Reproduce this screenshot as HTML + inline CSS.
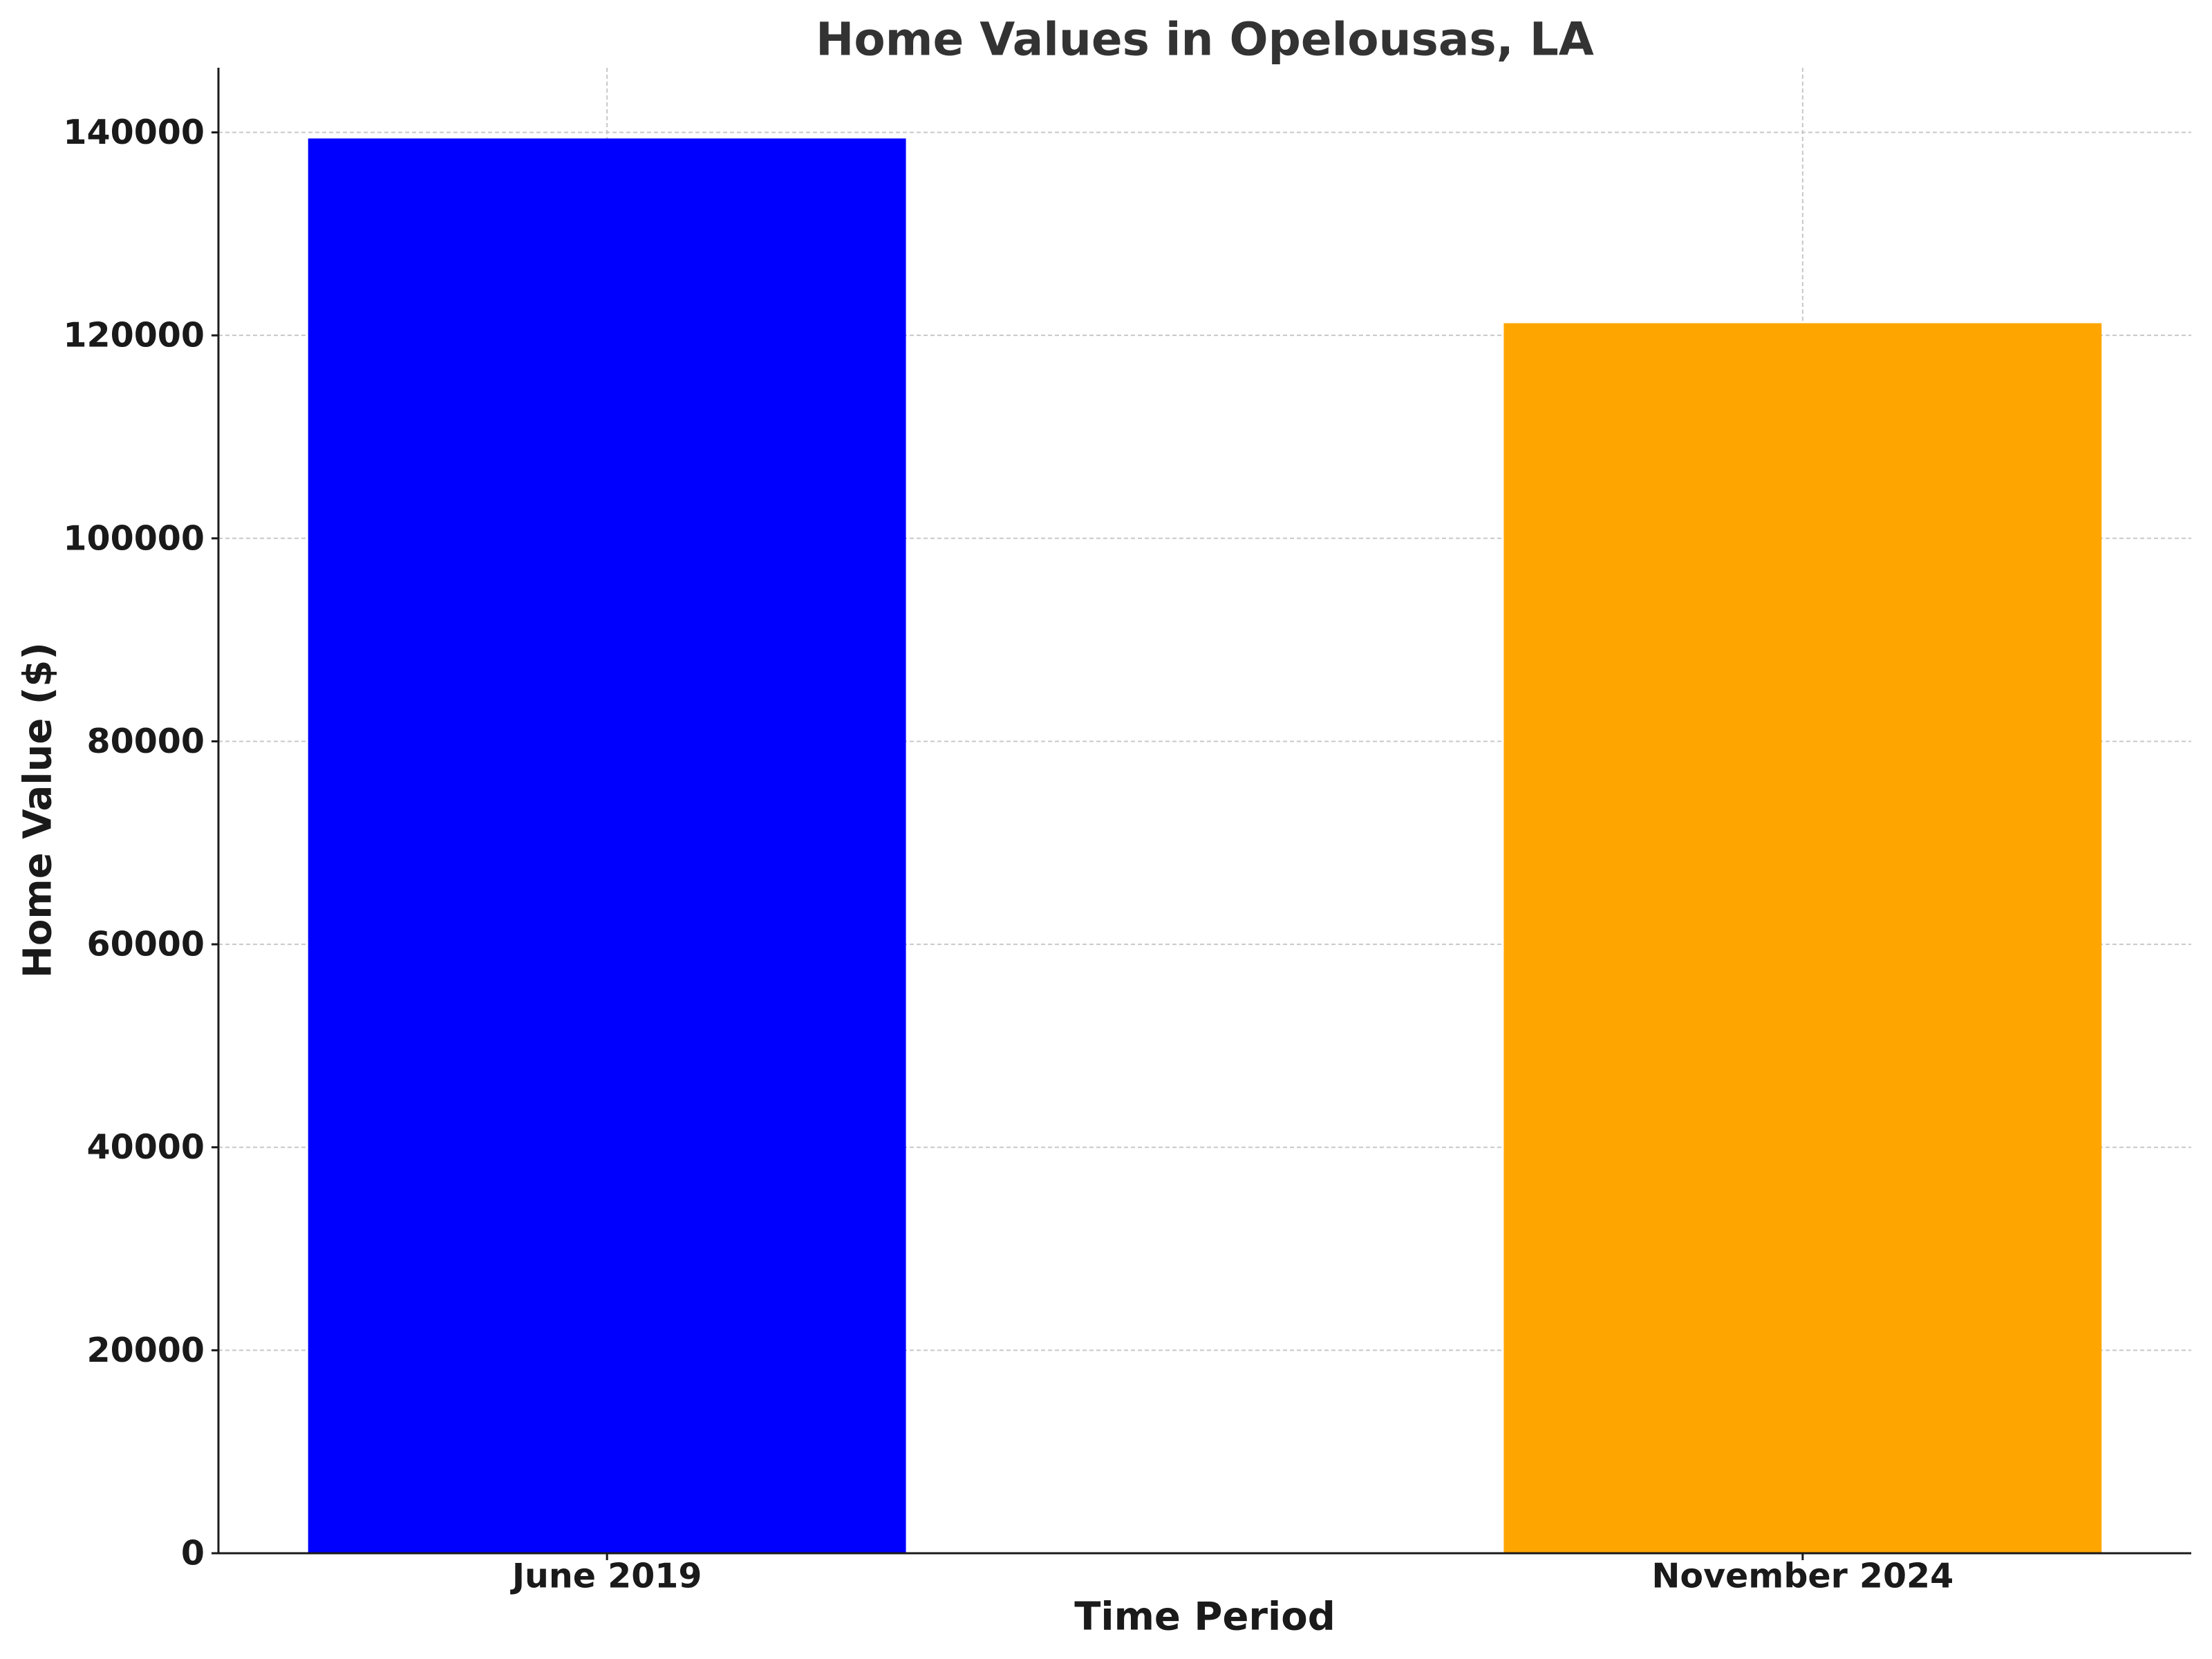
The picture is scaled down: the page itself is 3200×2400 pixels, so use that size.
<!DOCTYPE html>
<html><head><meta charset="utf-8"><style>
html,body{margin:0;padding:0;background:#fff;}
svg{display:block;font-family:"DejaVu Sans","Liberation Sans",sans-serif;font-weight:bold;}
</style></head><body>
<svg id="chart" width="3200" height="2400" viewBox="0 0 3200 2400">
<text x="1743" y="57" text-anchor="middle" dominant-baseline="central" font-size="66" fill="#333">Home Values in Opelousas, LA</text>
<g id="grid"></g>
<g id="bars"></g>
<g id="axes"></g>
<text x="1743" y="2339" text-anchor="middle" dominant-baseline="central" font-size="56" fill="#1a1a1a">Time Period</text>
<text transform="translate(55,1172) rotate(-90)" text-anchor="middle" dominant-baseline="central" font-size="56" fill="#1a1a1a">Home Value ($)</text>
</svg>
<script>
const categories = ["June 2019", "November 2024"];
const values = [139400, 121200];
const colors = ["#0000ff", "#ffa500"];
const yTicks = [0, 20000, 40000, 60000, 80000, 100000, 120000, 140000];
const NS = "http://www.w3.org/2000/svg";
const L = 316, R = 3170, T = 98, B = 2247;
const yMax = Math.max(...values) * 1.05;
const xMin = -0.325, xMax = categories.length - 1 + 0.325;
const y = v => B - (v / yMax) * (B - T);
const x = i => L + (i - xMin) / (xMax - xMin) * (R - L);
const bw = 0.5 * (R - L) / (xMax - xMin);
function mk(tag, attrs, parent) { const e = document.createElementNS(NS, tag); for (const k in attrs) e.setAttribute(k, attrs[k]); parent.appendChild(e); return e; }
const grid = document.getElementById("grid"), bars = document.getElementById("bars"), axes = document.getElementById("axes");
yTicks.forEach(t => {
  const g = mk("line", {x1: L, x2: R, y1: y(t), y2: y(t), stroke: "#c8c8c8", "stroke-width": 2, "stroke-dasharray": "6,4"}, grid);
  
  
  const tk = mk("line", {x1: L - 10, x2: L, y1: y(t), y2: y(t), stroke: "#1a1a1a", "stroke-width": 3}, axes);
  
  
  const tx = mk("text", {x: L - 20, y: y(t), "text-anchor": "end", "dominant-baseline": "central", "font-size": 49, fill: "#1a1a1a"}, axes);
  tx.textContent = t;
  
  
});
categories.forEach((c, i) => {
  const g = mk("line", {x1: x(i), x2: x(i), y1: T, y2: B, stroke: "#c8c8c8", "stroke-width": 2, "stroke-dasharray": "6,4"}, grid);
  
  
  const r = mk("rect", {x: x(i) - bw / 2, y: y(values[i]), width: bw, height: B - y(values[i]), fill: colors[i]}, bars);
  
  
  const tk = mk("line", {x1: x(i), x2: x(i), y1: B, y2: B + 10, stroke: "#1a1a1a", "stroke-width": 3}, axes);
  
  
  const tx = mk("text", {x: x(i), y: 2280, "text-anchor": "middle", "dominant-baseline": "central", "font-size": 49, fill: "#1a1a1a"}, axes);
  tx.textContent = c;
  
  
});
const la = mk("line", {x1: L, x2: L, y1: T, y2: B + 1.5, stroke: "#1a1a1a", "stroke-width": 3}, axes);


const ba = mk("line", {x1: L - 1.5, x2: R, y1: B, y2: B, stroke: "#1a1a1a", "stroke-width": 3}, axes);


</script>
</body></html>
